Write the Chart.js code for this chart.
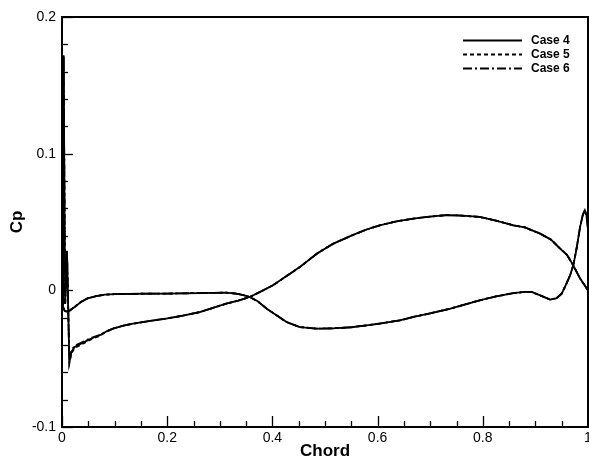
<!DOCTYPE html>
<html>
<head>
<meta charset="utf-8">
<script src="https://cdn.jsdelivr.net/npm/chart.js@4/dist/chart.umd.min.js"></script>
<style>
  html, body { margin: 0; padding: 0; background: #fff; }
  canvas { display: block; }
</style>
</head>
<body>
<canvas id="c" width="589" height="463"></canvas>
<script>
// ---- data ----
const seriesLabels = ["Case 4", "Case 5", "Case 6"];

const chord = [
  1.000, 0.993, 0.985, 0.972, 0.960, 0.947, 0.930, 0.909, 0.880, 0.858,
  0.825, 0.794, 0.760, 0.731, 0.700, 0.668, 0.636, 0.604, 0.579, 0.550,
  0.515, 0.485, 0.452, 0.425, 0.401, 0.380, 0.357, 0.335, 0.312, 0.290,
  0.262, 0.230, 0.198, 0.165, 0.135, 0.115, 0.097, 0.085, 0.071, 0.060,
  0.0485, 0.036, 0.024, 0.018, 0.014, 0.0095, 0.006, 0.003, 0.002, 0.005,
  0.008, 0.014, 0.024, 0.036, 0.0485, 0.065, 0.081, 0.100, 0.150, 0.198,
  0.262, 0.312, 0.331, 0.345, 0.357, 0.372, 0.389, 0.407, 0.427, 0.452,
  0.484, 0.515, 0.550, 0.579, 0.604, 0.642, 0.668, 0.700, 0.737, 0.765,
  0.794, 0.825, 0.858, 0.880, 0.893, 0.909, 0.928, 0.940, 0.950, 0.959,
  0.966, 0.972, 0.978, 0.985, 0.990, 0.994, 0.997, 1.000, 1.000
];

const cpCase4 = [
  0.000, 0.004, 0.0086, 0.0183, 0.026, 0.0305, 0.037, 0.0415, 0.046, 0.0476,
  0.051, 0.0537, 0.0547, 0.055, 0.054, 0.0525, 0.0505, 0.0476, 0.0445, 0.040,
  0.034, 0.027, 0.017, 0.010, 0.0037, -0.0005, -0.0049, -0.0075, -0.0098, -0.0125,
  -0.0159, -0.0185, -0.0207, -0.0225, -0.0244, -0.026, -0.028, -0.030, -0.033, -0.0345,
  -0.0366, -0.039, -0.0415, -0.045, -0.0525, 0.0288, -0.010, 0.172, -0.012, -0.0150,
  -0.0155, -0.0150, -0.0122, -0.0085, -0.0059, -0.0042, -0.0032, -0.0028, -0.0025, -0.0024,
  -0.0020, -0.0017, -0.0024, -0.0035, -0.0049, -0.008, -0.0134, -0.018, -0.0232, -0.0269,
  -0.0280, -0.0278, -0.027, -0.0256, -0.0243, -0.022, -0.0195, -0.0168, -0.0135, -0.0105,
  -0.0073, -0.0045, -0.0020, -0.0012, -0.0012, -0.0037, -0.0068, -0.0058, -0.0025, 0.0049,
  0.011, 0.0183, 0.030, 0.0464, 0.055, 0.0586, 0.055, 0.045, 0.000
];

const cpCase5 = [
  0.000, 0.004, 0.0086, 0.0183, 0.026, 0.0305, 0.037, 0.0415, 0.046, 0.0476,
  0.051, 0.0537, 0.0547, 0.055, 0.054, 0.0525, 0.0505, 0.0476, 0.0445, 0.040,
  0.034, 0.027, 0.017, 0.010, 0.0037, -0.0005, -0.0049, -0.0075, -0.0098, -0.0125,
  -0.0159, -0.0185, -0.0207, -0.0225, -0.0244, -0.026, -0.028, -0.030, -0.0335, -0.035,
  -0.0372, -0.0398, -0.0422, -0.046, -0.0535, 0.0285, -0.010, 0.171, -0.012, -0.0150,
  -0.0156, -0.0151, -0.0122, -0.0085, -0.0059, -0.0042, -0.0032, -0.0028, -0.0025, -0.0024,
  -0.0020, -0.0017, -0.0024, -0.0035, -0.0049, -0.008, -0.0134, -0.018, -0.0232, -0.0269,
  -0.0280, -0.0278, -0.027, -0.0256, -0.0243, -0.022, -0.0195, -0.0168, -0.0135, -0.0105,
  -0.0073, -0.0045, -0.0020, -0.0012, -0.0012, -0.0037, -0.0068, -0.0058, -0.0025, 0.0049,
  0.011, 0.0183, 0.030, 0.0464, 0.055, 0.0586, 0.055, 0.045, 0.000
];

const cpCase6 = [
  0.000, 0.004, 0.0086, 0.0183, 0.026, 0.0305, 0.037, 0.0415, 0.046, 0.0476,
  0.051, 0.0537, 0.0547, 0.055, 0.054, 0.0525, 0.0505, 0.0476, 0.0445, 0.040,
  0.034, 0.027, 0.017, 0.010, 0.0037, -0.0005, -0.0049, -0.0075, -0.0098, -0.0125,
  -0.0159, -0.0185, -0.0207, -0.0225, -0.0244, -0.026, -0.028, -0.030, -0.0328, -0.0342,
  -0.0360, -0.0384, -0.0405, -0.044, -0.052, 0.029, -0.010, 0.172, -0.012, -0.0150,
  -0.0154, -0.0149, -0.0122, -0.0085, -0.0059, -0.0042, -0.0032, -0.0028, -0.0025, -0.0024,
  -0.0020, -0.0017, -0.0024, -0.0035, -0.0049, -0.008, -0.0134, -0.018, -0.0232, -0.0269,
  -0.0280, -0.0278, -0.027, -0.0256, -0.0243, -0.022, -0.0195, -0.0168, -0.0135, -0.0105,
  -0.0073, -0.0045, -0.0020, -0.0012, -0.0012, -0.0037, -0.0068, -0.0058, -0.0025, 0.0049,
  0.011, 0.0183, 0.030, 0.0464, 0.055, 0.0586, 0.055, 0.045, 0.000
];

const xMajorLabels = ["0", "0.2", "0.4", "0.6", "0.8", "1"];
const yMajorLabels = ["-0.1", "0", "0.1", "0.2"];

// ---- build chart ----
const seriesValues = [cpCase4, cpCase5, cpCase6];
const dashes = [[], [4, 3], [9, 3, 2, 3]];
const toPoints = (ys) => chord.map((x, i) => ({ x: x, y: ys[i] }));

const FONT = "'Liberation Sans', Arial, Helvetica, sans-serif";

function fmt(v) {
  const r = Math.round(v * 100) / 100;
  return String(Number(r.toFixed(2)));
}

const frameTicks = {
  id: 'frameTicks',
  afterDraw(chart) {
    const ctx = chart.ctx;
    const a = chart.chartArea;
    const xs = chart.scales.x, ys = chart.scales.y;
    ctx.save();
    ctx.strokeStyle = '#000';
    ctx.lineWidth = 1.3;
    ctx.setLineDash([]);
    // inward ticks, x
    xs.ticks.forEach(t => {
      const major = xMajorLabels.includes(fmt(t.value));
      const px = Math.round(xs.getPixelForValue(t.value)) + 0.5;
      const len = major ? 11 : 6;
      ctx.beginPath();
      ctx.moveTo(px, a.bottom);
      ctx.lineTo(px, a.bottom - len);
      ctx.stroke();
    });
    ys.ticks.forEach(t => {
      const major = yMajorLabels.includes(fmt(t.value));
      const py = Math.round(ys.getPixelForValue(t.value)) + 0.5;
      const len = major ? 11 : 6;
      ctx.beginPath();
      ctx.moveTo(a.left, py);
      ctx.lineTo(a.left + len, py);
      ctx.stroke();
    });
    // frame
    ctx.lineWidth = 2;
    ctx.strokeRect(a.left, a.top, a.right - a.left, a.bottom - a.top);

    // legend (inside plot, top right)
    ctx.font = "bold 12px " + FONT;
    ctx.textBaseline = 'middle';
    ctx.fillStyle = '#000';
    chart.data.datasets.forEach((ds, i) => {
      const y = 40.5 + i * 14;
      ctx.lineWidth = 1.8;
      ctx.setLineDash(ds.borderDash || []);
      ctx.beginPath();
      ctx.moveTo(463, y);
      ctx.lineTo(522, y);
      ctx.stroke();
      ctx.setLineDash([]);
      ctx.fillText(ds.label, 531, y);
    });
    ctx.restore();
  }
};

new Chart(document.getElementById('c'), {
  type: 'scatter',
  data: {
    datasets: seriesLabels.map((lab, i) => ({
      label: lab,
      data: toPoints(seriesValues[i]),
      showLine: true,
      borderColor: '#000',
      backgroundColor: '#000',
      borderWidth: 1.8,
      borderDash: dashes[i],
      pointRadius: 0,
      pointHoverRadius: 0,
      tension: 0,
      fill: false
    }))
  },
  options: {
    responsive: false,
    animation: false,
    devicePixelRatio: 1,
    layout: { padding: { top: 17, right: 1, bottom: 0, left: 0 } },
    plugins: {
      legend: { display: false },
      tooltip: { enabled: false },
      title: { display: false }
    },
    scales: {
      x: {
        type: 'linear',
        min: 0, max: 1,
        grid: { display: false, drawTicks: false },
        border: { display: false },
        ticks: {
          stepSize: 0.05,
          autoSkip: false,
          maxRotation: 0,
          padding: 3,
          color: '#000',
          font: { family: FONT, size: 14 },
          callback: (v) => { const s = fmt(v); return xMajorLabels.includes(s) ? s : ''; }
        },
        title: {
          display: true, text: 'Chord', color: '#000',
          font: { family: FONT, size: 17, weight: 'bold' },
          padding: { top: 0, bottom: 1 }
        },
        afterFit: (s) => { s.height = 36; s.paddingLeft = 0; s.paddingRight = 0; }
      },
      y: {
        type: 'linear',
        min: -0.1, max: 0.2,
        grid: { display: false, drawTicks: false },
        border: { display: false },
        ticks: {
          stepSize: 0.02,
          autoSkip: false,
          padding: 6,
          color: '#000',
          font: { family: FONT, size: 14 },
          callback: (v) => { const s = fmt(v); return yMajorLabels.includes(s) ? s : ''; }
        },
        title: {
          display: true, text: 'Cp', color: '#000',
          font: { family: FONT, size: 17, weight: 'bold' },
          padding: { top: 7, bottom: 0 }
        },
        afterFit: (s) => { s.width = 62; s.paddingTop = 0; s.paddingBottom = 0; }
      }
    }
  },
  plugins: [frameTicks]
});
</script>
</body>
</html>
